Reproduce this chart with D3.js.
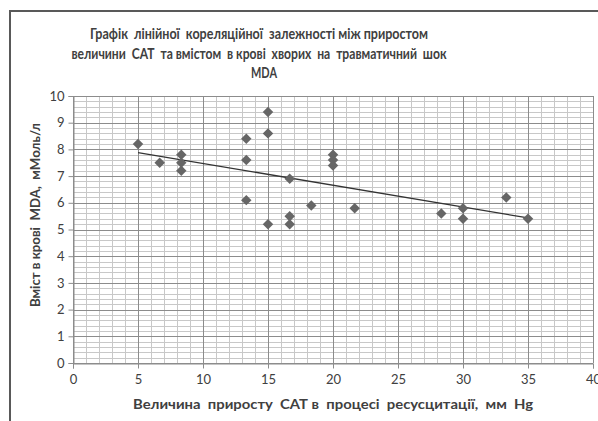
<!DOCTYPE html>
<html>
<head>
<meta charset="utf-8">
<script src="https://cdn.jsdelivr.net/npm/d3@7"></script>
<style>
  body { margin: 0; background: #fff; }
  text { font-family: Lato, "Liberation Sans", sans-serif; white-space: pre; }
</style>
</head>
<body>
<div id="plot"></div>
<script>
// chart data
const satGain = [5, 6.67, 8.33, 8.33, 8.33, 13.33, 13.33, 13.33, 15, 15, 15, 16.67, 16.67, 16.67,
                 18.33, 20, 20, 20, 21.67, 28.33, 30, 30, 33.33, 35];
const mdaLevel = [8.2, 7.5, 7.8, 7.5, 7.2, 8.4, 7.6, 6.1, 9.4, 8.6, 5.2, 6.9, 5.5, 5.2,
                  5.9, 7.8, 7.6, 7.4, 5.8, 5.6, 5.8, 5.4, 6.2, 5.4];
const xTicks = [0, 5, 10, 15, 20, 25, 30, 35, 40];
const yTicks = [0, 1, 2, 3, 4, 5, 6, 7, 8, 9, 10];
const titleLines = [
  "Графік  лінійної  кореляційної  залежності між приростом",
  "величини  САТ  та вмістом  в крові  хворих  на  травматичний  шок",
  "MDA"
];
const xTitle = "Величина  приросту  САТ в  процесі  ресусцитації,  мм  Hg";
const yTitle = "Вміст в крові  MDA,  мМоль/л";

const w = 598;
const h = 421;
const margin = {top: 96, right: 5, bottom: 58, left: 73};

const svg = d3.select("div#plot")
  .append("svg")
  .attr("width", w)
  .attr("height", h);

svg.append("rect")
  .attr("x", 0).attr("y", 0)
  .attr("width", w).attr("height", h)
  .attr("fill", "white");

// outer chart frame (runs off the right/bottom edge)
svg.append("path")
  .attr("d", `M10,${h + 5} L10,11 L${w + 5},11`)
  .attr("fill", "none")
  .attr("stroke", "#595959")
  .attr("stroke-width", 2);

const xScale = d3.scaleLinear().domain([0, 40]).range([margin.left, w - margin.right]);
const yScale = d3.scaleLinear().domain([0, 10]).range([h - margin.bottom, margin.top]);

// minor grid
const grid = svg.append("g");
grid.selectAll(".hminor")
  .data(d3.range(0, 51).map(i => i / 5))
  .enter().append("line")
  .attr("x1", xScale(0)).attr("x2", xScale(40))
  .attr("y1", d => Math.round(yScale(d)) + 0.5)
  .attr("y2", d => Math.round(yScale(d)) + 0.5)
  .attr("stroke", "#c8c8c8").attr("stroke-width", 1);
grid.selectAll(".vminor")
  .data(d3.range(0, 41))
  .enter().append("line")
  .attr("y1", yScale(0)).attr("y2", yScale(10))
  .attr("x1", d => Math.round(xScale(d)) + 0.5)
  .attr("x2", d => Math.round(xScale(d)) + 0.5)
  .attr("stroke", "#c8c8c8").attr("stroke-width", 1);
// major grid
grid.selectAll(".hmajor")
  .data(yTicks)
  .enter().append("line")
  .attr("x1", xScale(0)).attr("x2", xScale(40))
  .attr("y1", d => Math.round(yScale(d)) + 0.5)
  .attr("y2", d => Math.round(yScale(d)) + 0.5)
  .attr("stroke", "#8c8c8c").attr("stroke-width", 1);
grid.selectAll(".vmajor")
  .data(xTicks)
  .enter().append("line")
  .attr("y1", yScale(0)).attr("y2", yScale(10))
  .attr("x1", d => Math.round(xScale(d)) + 0.5)
  .attr("x2", d => Math.round(xScale(d)) + 0.5)
  .attr("stroke", "#8c8c8c").attr("stroke-width", 1);

// axes
const xAxis = svg.append("g")
  .attr("transform", `translate(0,${Math.round(yScale(0)) + 0.5})`)
  .call(d3.axisBottom(xScale).tickValues(xTicks).tickSize(5).tickPadding(6));
const yAxis = svg.append("g")
  .attr("transform", `translate(${Math.round(xScale(0)) + 0.5},0)`)
  .call(d3.axisLeft(yScale).tickValues(yTicks).tickSize(5).tickPadding(4));
[xAxis, yAxis].forEach(a => {
  a.select(".domain").attr("stroke", "#8c8c8c");
  a.selectAll(".tick line").attr("stroke", "#8c8c8c");
  a.selectAll(".tick text")
    .attr("fill", "#404040")
    .style("font-size", "13px")
    .style("font-family", "Lato, 'Liberation Sans', sans-serif");
});

// trendline (least squares)
const mx = d3.mean(satGain), my = d3.mean(mdaLevel);
const slope = d3.sum(satGain, (x, i) => (x - mx) * (mdaLevel[i] - my)) /
              d3.sum(satGain, x => (x - mx) * (x - mx));
const icpt = my - slope * mx;
const [xa, xb] = d3.extent(satGain);
svg.append("line")
  .attr("x1", xScale(xa)).attr("y1", yScale(icpt + slope * xa))
  .attr("x2", xScale(xb)).attr("y2", yScale(icpt + slope * xb))
  .attr("stroke", "#333").attr("stroke-width", 1.3);

// markers
svg.selectAll(".pt")
  .data(satGain.map((x, i) => [x, mdaLevel[i]]))
  .enter().append("path")
  .attr("class", "pt")
  .attr("d", d3.symbol(d3.symbolDiamond2, 70))
  .attr("transform", d => `translate(${xScale(d[0])},${yScale(d[1])})`)
  .attr("fill", "#666666");

// titles
const titleWidths = [338, 375, 26];
svg.selectAll(".title")
  .data(titleLines)
  .enter().append("text")
  .attr("x", (d, i) => i === 2 ? 264 : 259)
  .attr("y", (d, i) => 39 + i * 19.5)
  .attr("text-anchor", "middle")
  .attr("fill", "#404040")
  .attr("textLength", (d, i) => titleWidths[i])
  .attr("lengthAdjust", "spacingAndGlyphs")
  .style("font-size", "14.5px")
  .style("font-weight", "bold")
  .text(d => d);

svg.append("text")
  .attr("x", 333)
  .attr("y", 409)
  .attr("text-anchor", "middle")
  .attr("fill", "#404040")
  .attr("textLength", 400)
  .attr("lengthAdjust", "spacingAndGlyphs")
  .style("font-size", "14px")
  .style("font-weight", "bold")
  .text(xTitle);

svg.append("text")
  .attr("transform", "rotate(-90)")
  .attr("x", -215)
  .attr("y", 40)
  .attr("text-anchor", "middle")
  .attr("fill", "#404040")
  .attr("textLength", 184)
  .attr("lengthAdjust", "spacingAndGlyphs")
  .style("font-size", "13.5px")
  .style("font-weight", "bold")
  .text(yTitle);
</script>
</body>
</html>
